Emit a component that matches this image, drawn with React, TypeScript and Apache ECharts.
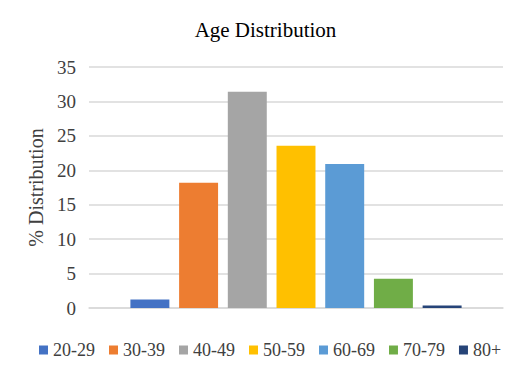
import React, { useEffect, useRef } from "react";
import * as echarts from "echarts";

const ageGroups = ["20-29", "30-39", "40-49", "50-59", "60-69", "70-79", "80+"];
const distribution = [1.25, 18.2, 31.4, 23.55, 20.9, 4.25, 0.35];
const barColors = ["#4472C4", "#ED7D31", "#A5A5A5", "#FFC000", "#5B9BD5", "#70AD47", "#264478"];
const yTicks = [0, 5, 10, 15, 20, 25, 30, 35];

const FONT = "'Liberation Serif', serif";

export default function App() {
  const ref = useRef<HTMLDivElement>(null);
  useEffect(() => {
    if (!ref.current) return;
    const chart = echarts.init(ref.current, null, { renderer: "svg" });
    chart.setOption({
      animation: false,
      textStyle: { fontFamily: FONT },
      title: {
        text: "Age Distribution",
        left: "center",
        top: 14,
        textStyle: { fontFamily: FONT, fontSize: 21, fontWeight: "normal", color: "#000" },
      },
      legend: {
        data: ageGroups,
        bottom: 13,
        left: 34,
        icon: "rect",
        itemWidth: 9,
        itemHeight: 9,
        itemGap: 14,
        textStyle: { fontFamily: FONT, fontSize: 18, color: "#404040" },
      },
      grid: { left: 89, right: 28, top: 67, bottom: 69, containLabel: false },
      xAxis: {
        type: "category",
        data: [""],
        axisLabel: { show: false },
        axisTick: { show: false },
        axisLine: { lineStyle: { color: "#D9D9D9", width: 1.5 } },
      },
      yAxis: {
        type: "value",
        min: yTicks[0],
        max: yTicks[yTicks.length - 1],
        interval: 5,
        name: "% Distribution",
        nameLocation: "middle",
        nameGap: 43,
        nameTextStyle: { fontFamily: FONT, fontSize: 20, color: "#404040" },
        axisLabel: { fontFamily: FONT, fontSize: 19, color: "#404040", margin: 13 },
        axisLine: { show: false },
        axisTick: { show: false },
        splitLine: { lineStyle: { color: "#D9D9D9", width: 1.5 } },
      },
      series: ageGroups.map((name, i) => ({
        name,
        type: "bar",
        data: [distribution[i]],
        itemStyle: { color: barColors[i] },
        barGap: "25%",
        barCategoryGap: "20%",
      })),
    });
    return () => chart.dispose();
  }, []);
  return <div ref={ref} style={{ width: 531, height: 377, margin: -8 }} />;
}
